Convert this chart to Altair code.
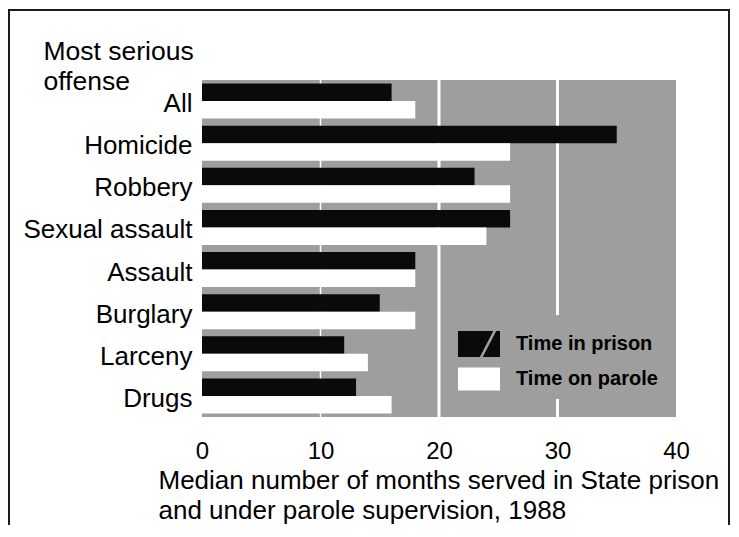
import altair as alt
import pandas as pd

offenses = ["All", "Homicide", "Robbery", "Sexual assault", "Assault",
            "Burglary", "Larceny", "Drugs"]
series = ["Time in prison", "Time on parole"]
prison_months = [16, 35, 23, 26, 18, 15, 12, 13]
parole_months = [18, 26, 26, 24, 18, 18, 14, 16]
x_ticks = [0, 10, 20, 30, 40]
grid_major = [20, 30]
grid_minor = [10]

rows = []
for o, p, q in zip(offenses, prison_months, parole_months):
    rows.append({"Offense": o, "Series": series[0], "Months": p})
    rows.append({"Offense": o, "Series": series[1], "Months": q})
df = pd.DataFrame(rows)

FONT = "Liberation Sans"
GRAY = "#9e9e9e"

xscale = alt.Scale(domain=[0, 40], nice=False, zero=True)
yscale = alt.Scale(paddingInner=0.17, paddingOuter=0.085)
color_scale = alt.Scale(domain=series, range=["#0a0a0a", "#ffffff"])
prison_path = ("M-1,-0.62L1,-0.62L1,0.62L-1,0.62Z "
               "M0.04,0.62L0.18,0.62L0.82,-0.62L0.68,-0.62Z")
parole_path = "M-1,-0.55L1,-0.55L1,0.55L-1,0.55Z"
shape_scale = alt.Scale(domain=series, range=[prison_path, parole_path])

X_TITLE = ["Median number of months served in State prison",
           "and under parole supervision, 1988"]
x_axis = alt.Axis(
    values=x_ticks, domain=False, ticks=False, tickSize=0, grid=False,
    labelFont=FONT, labelFontSize=24, labelColor="#000", labelPadding=22,
    labelBaseline="top", labelFlush=False,
    title=X_TITLE,
    titleFont=FONT, titleFontSize=26, titleFontWeight="normal",
    titleColor="#000", titleAnchor="start", titleAlign="left",
    titleBaseline="top", titleX=-44, titleY=50, titleLineHeight=30,
)
y_axis = alt.Axis(
    domain=False, ticks=False, tickSize=0, grid=False,
    labelFont=FONT, labelFontSize=26, labelColor="#000", labelPadding=10,
    labelOffset=3, labelLimit=300,
    title=["Most serious", "offense"],
    titleFont=FONT, titleFontSize=26.5, titleFontWeight="normal",
    titleColor="#000", titleAngle=0, titleAlign="left", titleAnchor="start",
    titleBaseline="top", titleX=-159, titleY=-42, titleLineHeight=30,
)

legend = alt.Legend(
    title=None, orient="none", legendX=248, legendY=235,
    padding=8, fillColor=GRAY, symbolSize=1764, symbolOpacity=1,
    symbolStrokeWidth=0, labelFont=FONT, labelFontSize=20,
    labelFontWeight="bold", labelColor="#000", labelOffset=16,
    labelLimit=300, rowPadding=-3,
)

base = alt.Chart(df)

minor = alt.Chart(pd.DataFrame({"v": grid_minor})).mark_rule(
    color="#ffffff", strokeWidth=1.5
).encode(x=alt.X("v:Q", scale=xscale, axis=x_axis, title=X_TITLE))

major = alt.Chart(pd.DataFrame({"v": grid_major})).mark_rule(
    color="#ffffff", strokeWidth=3
).encode(x=alt.X("v:Q", scale=xscale, axis=x_axis, title=X_TITLE))

bars = base.mark_bar().encode(
    x=alt.X("Months:Q", scale=xscale, axis=x_axis, title=X_TITLE),
    y=alt.Y("Offense:N", sort=offenses, scale=yscale, axis=y_axis),
    yOffset=alt.YOffset("Series:N", scale=alt.Scale(domain=series, paddingInner=0, paddingOuter=0)),
    color=alt.Color("Series:N", scale=color_scale, legend=legend),
)

legend_layer = base.mark_point(filled=True, opacity=0, size=1764).encode(
    x=alt.X("Months:Q", scale=xscale, axis=x_axis, title=X_TITLE),
    y=alt.Y("Offense:N", sort=offenses, scale=yscale, axis=y_axis),
    color=alt.Color("Series:N", scale=color_scale, legend=legend),
    shape=alt.Shape("Series:N", scale=shape_scale, legend=legend),
)

one = pd.DataFrame({"a": [0]})
frame_top = alt.Chart(one).mark_rule(color="#1a1a1a", strokeWidth=2).encode(
    x=alt.value(-194), x2=alt.value(528), y=alt.value(-70))
frame_left = alt.Chart(one).mark_rule(color="#1a1a1a", strokeWidth=2).encode(
    x=alt.value(-193), y=alt.value(-70), y2=alt.value(450))
frame_right = alt.Chart(one).mark_rule(color="#1a1a1a", strokeWidth=2).encode(
    x=alt.value(527), y=alt.value(-70), y2=alt.value(450))

chart = alt.layer(minor, major, bars, legend_layer, frame_top, frame_left, frame_right).properties(
    width=474, height=337,
    autosize=alt.AutoSizeParams(type="none"),
    padding={"left": 194, "top": 72, "right": 55, "bottom": 108},
    background="#ffffff",
).configure_view(fill=GRAY, stroke=None)

chart.save("out.html", embed_options={"renderer": "svg", "actions": False})
